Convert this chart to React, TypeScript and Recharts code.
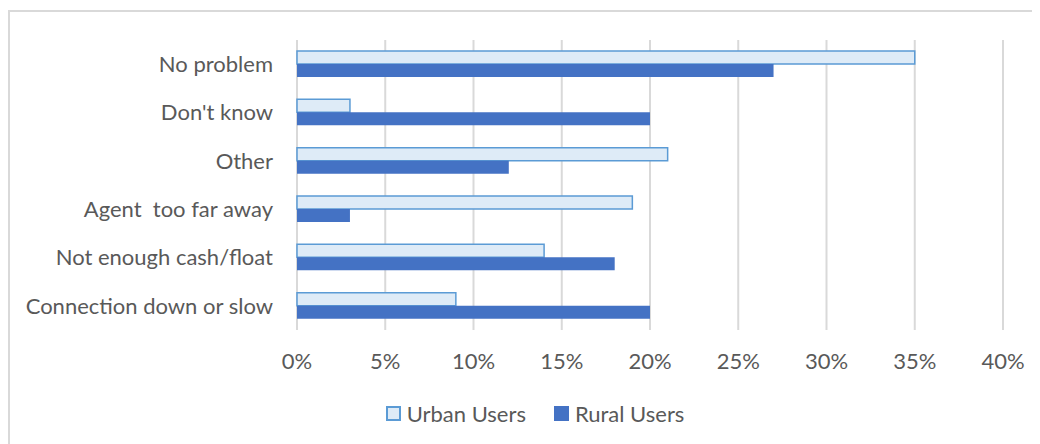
import { BarChart, Bar, XAxis, YAxis, CartesianGrid, Legend } from "recharts";

const categories = [
  "No problem",
  "Don't know",
  "Other",
  "Agent  too far away",
  "Not enough cash/float",
  "Connection down or slow",
];
const urbanUsers = [35, 3, 21, 19, 14, 9];
const ruralUsers = [27, 20, 12, 3, 18, 20];
const xTicks = [0, 5, 10, 15, 20, 25, 30, 35, 40];

const data = categories.map((name, i) => ({
  name,
  urban: urbanUsers[i],
  rural: ruralUsers[i],
}));

const font = "Lato, 'Open Sans', sans-serif";
const textColor = "#595959";
const fontSize = 22;

const legendItems = [
  { label: "Urban Users", fill: "#DEEBF7", stroke: "#5B9BD5" },
  { label: "Rural Users", fill: "#4472C4", stroke: "#4472C4" },
];

// keeps the double space in "Agent  too far away"
const CategoryTick = (props: any) => {
  const { x, y, payload } = props;
  return (
    <text
      x={x}
      y={y}
      dy="0.355em"
      textAnchor="end"
      fill={textColor}
      fontSize={fontSize}
      fontFamily={font}
      style={{ whiteSpace: "pre" }}
    >
      {payload.value}
    </text>
  );
};

const renderLegend = () => (
  <div
    style={{
      display: "flex",
      justifyContent: "center",
      alignItems: "center",
      height: 26,
      paddingLeft: 20,
      fontFamily: font,
      fontSize,
      color: textColor,
    }}
  >
    {legendItems.map((it, i) => (
      <div
        key={it.label}
        style={{ display: "flex", alignItems: "center", marginLeft: i ? 28 : 0 }}
      >
        <span
          style={{
            display: "inline-block",
            width: 11,
            height: 11,
            background: it.fill,
            border: `2px solid ${it.stroke}`,
            marginRight: 6,
          }}
        />
        {it.label}
      </div>
    ))}
  </div>
);

export default function App() {
  return (
    <div
      style={{
        marginTop: 2,
        width: 1032,
        height: 434,
        borderTop: "2px solid #D9D9D9",
        borderLeft: "2px solid #D9D9D9",
        boxSizing: "border-box",
        overflow: "hidden",
      }}
    >
      <BarChart
        width={1030}
        height={432}
        layout="vertical"
        data={data}
        margin={{ top: 28, right: 37, bottom: 38, left: 0 }}
        barSize={13}
        barGap={0}
      >
        <CartesianGrid horizontal={false} stroke="#D9D9D9" strokeWidth={2} />
        <XAxis
          type="number"
          domain={[0, 40]}
          ticks={xTicks}
          tickFormatter={(v) => `${v}%`}
          axisLine={false}
          tickLine={false}
          tickSize={0}
          tickMargin={23}
          height={50}
          tick={{ fill: textColor, fontSize, fontFamily: font }}
        />
        <YAxis
          type="category"
          dataKey="name"
          width={287}
          axisLine={false}
          tickLine={false}
          tickSize={0}
          tickMargin={24}
          interval={0}
          tick={<CategoryTick />}
        />
        <Bar
          dataKey="urban"
          name="Urban Users"
          fill="#DEEBF7"
          stroke="#5B9BD5"
          strokeWidth={1.5}
          isAnimationActive={false}
        />
        <Bar
          dataKey="rural"
          name="Rural Users"
          fill="#4472C4"
          isAnimationActive={false}
        />
        <Legend
          verticalAlign="bottom"
          content={renderLegend}
          wrapperStyle={{ top: 388, left: 0, width: 1030 }}
        />
      </BarChart>
    </div>
  );
}
